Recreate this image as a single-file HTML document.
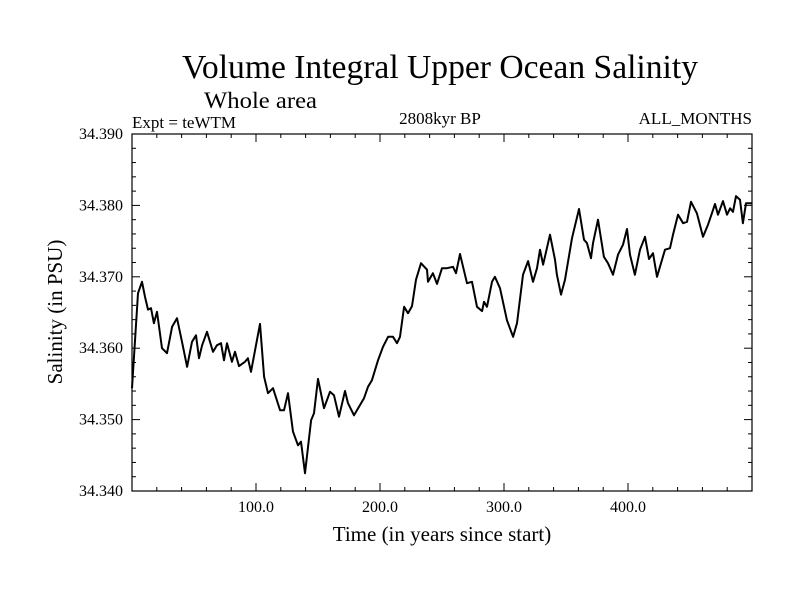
<!DOCTYPE html>
<html><head><meta charset="utf-8"><style>
body{margin:0;background:#fff}
svg text{font-family:"Liberation Serif",serif;fill:#000}
</style></head><body>
<svg width="800" height="600" xmlns="http://www.w3.org/2000/svg">
<text x="440" y="78" font-size="34" text-anchor="middle" textLength="516" lengthAdjust="spacingAndGlyphs">Volume Integral Upper Ocean Salinity</text>
<text x="204" y="108" font-size="23" textLength="113" lengthAdjust="spacingAndGlyphs">Whole area</text>
<text x="132" y="128" font-size="17">Expt = teWTM</text>
<text x="440" y="124" font-size="17" text-anchor="middle">2808kyr BP</text>
<text x="752" y="124" font-size="17" text-anchor="end">ALL_MONTHS</text>
<text x="442" y="541" font-size="21" text-anchor="middle">Time (in years since start)</text>
<text transform="translate(62,312) rotate(-90)" font-size="21" text-anchor="middle">Salinity (in PSU)</text>
<g id="axes"></g>
<rect x="132" y="134" width="620" height="357" fill="none" stroke="#000" stroke-width="1.2"/>
<path id="line" fill="none" stroke="#000" stroke-width="2" stroke-linejoin="round"/>
</svg>
<script>
const years=[0,4.8,8.1,10.5,12.9,15.3,17.7,20.2,24.2,28.2,32.3,36.3,40.3,44.4,48.4,51.6,54,56.5,60.5,65.3,68.5,71.8,74.2,76.6,80.6,83.1,86.3,91.1,93.5,96,103.2,106.5,109.7,113.7,119.4,122.6,125.8,129.8,133.9,136.3,139.5,144.4,146.8,150,154.8,159.7,162.9,166.9,171.8,174.2,179,187.1,190.3,193.5,198.4,202.4,206.5,210.5,213.7,216.1,219.4,222.6,225.8,229,233.1,237.9,238.7,242.7,246,250,254,258.9,261.3,264.5,270.2,274.2,278.2,282.3,283.9,286.3,290.3,292.7,296.8,302.4,307.3,310.5,315.3,319.4,323.4,326.6,329,331.5,337.1,341.1,342.7,346,349.2,354.8,360.5,364.5,366.9,370.2,371.8,375.8,380.6,383.9,387.9,391.9,396,399.2,401.6,405.6,409.7,413.7,416.9,420.2,423.4,429.8,433.9,436.3,440.3,444.4,447.6,450.8,455.6,460.5,464.5,467.7,470.2,472.6,476.6,479.8,482.3,484.7,487.1,490.3,492.7,495.2,500];
const offs=[14.4,27.7,29.3,27.2,25.4,25.6,23.5,25.1,20.0,19.3,23.0,24.2,20.9,17.4,20.9,21.8,18.6,20.4,22.3,19.5,20.4,20.7,18.3,20.7,18.1,19.5,17.5,18.1,18.6,16.7,23.4,16.0,13.7,14.4,11.3,11.3,13.7,8.3,6.4,6.9,2.5,9.9,10.9,15.7,11.6,13.9,13.4,10.4,14.0,12.3,10.6,13.0,14.6,15.5,18.3,20.2,21.6,21.6,20.7,21.6,25.8,24.9,25.9,29.6,31.9,31.0,29.3,30.5,29.0,31.2,31.2,31.4,30.5,33.2,29.1,29.3,25.8,25.2,26.5,25.8,29.3,30.0,28.4,23.9,21.6,23.5,30.3,32.2,29.3,31.2,33.8,31.7,35.9,32.4,30.3,27.5,29.6,35.4,39.5,35.2,34.7,32.6,34.7,38.0,32.8,31.9,30.3,33.1,34.5,36.7,33.1,30.3,33.8,35.6,32.5,33.3,30.0,33.8,34.0,35.9,38.7,37.5,37.7,40.5,38.9,35.6,37.3,38.9,40.2,38.7,40.6,38.7,39.6,39.1,41.3,40.8,37.5,40.3,40.3];
const salinity=offs.map(o=>34.34+o/1000);
const yTicks=[34.340,34.350,34.360,34.370,34.380,34.390];
const xTicks=[100,200,300,400];
const X0=132,X1=752,Y0=491,Y1=134;
const xs=v=>X0+(v-0)/(500-0)*(X1-X0);
const ys=v=>Y0-(v-34.34)/(0.05)*(Y0-Y1);
document.getElementById('line').setAttribute('d',years.map((t,i)=>(i?'L':'M')+xs(t).toFixed(1)+','+ys(salinity[i]).toFixed(1)).join(''));
const g=document.getElementById('axes');const NS='http://www.w3.org/2000/svg';
function ln(x1,y1,x2,y2,n){const l=document.createElementNS(NS,'line');l.setAttribute('x1',x1);l.setAttribute('y1',y1);l.setAttribute('x2',x2);l.setAttribute('y2',y2);l.setAttribute('stroke','#000');l.setAttribute('stroke-width','1');

g.appendChild(l);}
function tx(x,y,s,a,n){const t=document.createElementNS(NS,'text');t.setAttribute('x',x);t.setAttribute('y',y);t.setAttribute('font-size','16');t.setAttribute('text-anchor',a);t.textContent=s;

g.appendChild(t);}
for(let k=0;k<=25;k++){const v=34.34+k*0.002;const y=ys(v);const maj=k%5==0;const L=maj?8:4;
ln(X0,y,X0+L,y,'y-tick');ln(X1,y,X1-L,y,'y-tick-right');}
yTicks.forEach(v=>tx(123,ys(v)+5,v.toFixed(3),'end','y-tick-label'));
for(let k=0;k<=25;k++){const v=k*20;const x=xs(v);const maj=k%5==0;const L=maj?8:4;
ln(x,Y0,x,Y0-L,'x-tick');ln(x,Y1,x,Y1+L,'x-tick-top');}
xTicks.forEach(v=>tx(xs(v),512,v.toFixed(1),'middle','x-tick-label'));
</script>
</body></html>
